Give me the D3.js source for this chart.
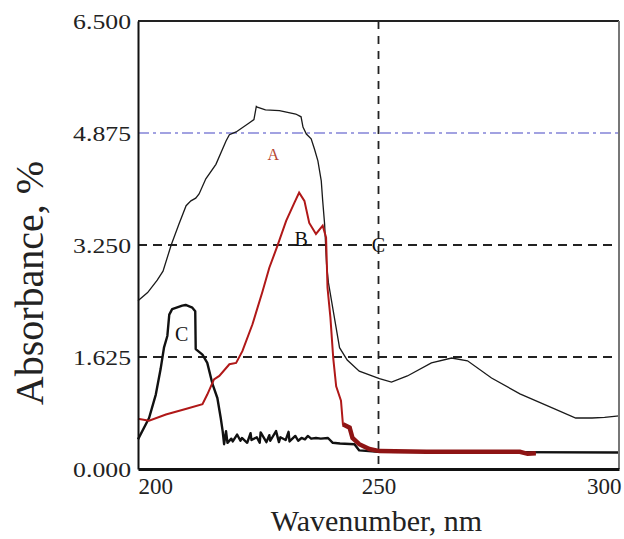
<!DOCTYPE html>
<html>
<head>
<meta charset="utf-8">
<script src="https://cdn.jsdelivr.net/npm/d3@7"></script>
<style>
  body { margin: 0; background: #fff; }
  svg text { font-family: "Liberation Serif", "Times New Roman", serif; }
</style>
</head>
<body>
<div id="maViz"></div>
<script>
// donnees (nm , absorbance)
const waveA = [200, 202, 204, 205.2, 206.9, 208.5, 210, 211, 212, 212.7, 214.1, 216.2, 218.3, 219, 220.4, 223.1, 224.1, 224.6, 224.8, 226.5, 229.4, 232.8, 233.9, 234.3, 235, 236, 236.7, 237.4, 238.1, 238.4, 238.8, 239.2, 239.6, 240.6, 241.9, 243.5, 246, 250.2, 252.7, 256, 261, 265.2, 268.5, 273.5, 279.4, 286, 291, 294.4, 297, 300];
const absA  = [2.44, 2.56, 2.74, 2.87, 3.25, 3.55, 3.82, 3.89, 3.93, 3.99, 4.21, 4.42, 4.76, 4.85, 4.89, 5.02, 5.07, 5.26, 5.25, 5.21, 5.20, 5.15, 5.11, 4.96, 4.86, 4.79, 4.64, 4.47, 4.18, 3.89, 3.55, 2.97, 2.70, 2.29, 1.76, 1.58, 1.42, 1.31, 1.26, 1.35, 1.54, 1.61, 1.57, 1.32, 1.09, 0.89, 0.74, 0.74, 0.75, 0.77];

const waveB = [200, 202.3, 205.8, 209.9, 213.4, 214.4, 215.8, 216.9, 219, 220.4, 221.7, 223.8, 225.9, 227.3, 229, 230.8, 232.5, 233.5, 234.6, 235.6, 237, 238.4, 239.1, 239.4, 240, 240.6, 241.2, 242.2, 242.6, 244, 244.6, 246, 248.1, 250.2, 260, 270, 279.4, 281, 282.7];
const absB  = [0.73, 0.70, 0.79, 0.87, 0.94, 1.08, 1.30, 1.35, 1.52, 1.54, 1.71, 2.10, 2.58, 2.92, 3.24, 3.60, 3.86, 4.01, 3.89, 3.57, 3.41, 3.53, 3.36, 2.63, 2.20, 1.60, 1.20, 0.99, 0.65, 0.60, 0.45, 0.36, 0.29, 0.26, 0.25, 0.25, 0.25, 0.22, 0.23];

const waveC = [200, 202.3, 203.7, 204.7, 205.4, 206.1, 206.5, 207.1, 209.2, 209.9, 211.3, 211.9, 212, 213.4, 214.4, 215.5, 216.5, 217.2, 217.6, 217.9, 218.3, 218.6, 219.4, 219.7, 220.6, 221.3, 221.6, 222.7, 223.4, 223.6, 224.7, 225.3, 225.5, 226.7, 227.3, 227.5, 228.7, 229.3, 229.6, 230.7, 231.3, 231.5, 232.7, 233.3, 234, 234.7, 235.3, 236, 237, 238, 239.5, 240.5, 242, 245, 246, 250, 300];
const absC  = [0.43, 0.74, 1.08, 1.45, 1.76, 1.93, 2.24, 2.32, 2.37, 2.38, 2.34, 2.29, 1.74, 1.66, 1.54, 1.23, 1.03, 0.74, 0.55, 0.36, 0.55, 0.38, 0.44, 0.40, 0.50, 0.41, 0.45, 0.38, 0.52, 0.42, 0.46, 0.38, 0.53, 0.39, 0.49, 0.41, 0.55, 0.39, 0.46, 0.42, 0.54, 0.40, 0.48, 0.41, 0.45, 0.43, 0.48, 0.44, 0.45, 0.44, 0.45, 0.38, 0.37, 0.36, 0.27, 0.25, 0.24];

const xTicks = [200, 250, 300];
const yTicks = [0, 1.625, 3.25, 4.875, 6.5];
const gridY = [4.875, 3.25, 1.625];
const gridX = [250];

// lettres sur les courbes
const marks = ["A", "B", "C", "C"];
const markWave = [228.1, 233.9, 209.1, 250];
const markAbs = [4.57, 3.33, 1.96, 3.25];

// dimensions
const W = 624, H = 539;
const margin = {top: 21, right: 5, bottom: 70, left: 138};
const width = W - margin.left - margin.right;   // 481
const height = H - margin.top - margin.bottom;  // 448

const svg = d3.select("#maViz").append("svg")
  .attr("width", W).attr("height", H);

const g = svg.append("g")
  .attr("transform", `translate(${margin.left},${margin.top})`);

const x = d3.scaleLinear().domain([200, 300]).range([0, width]);
const y = d3.scaleLinear().domain([0, 6.5]).range([height, 0]);

// grille pointillee
g.selectAll(".gy").data(gridY).join("line")
  .attr("x1", 0).attr("x2", width)
  .attr("y1", d => y(d)).attr("y2", d => y(d))
  .attr("stroke", d => d === 4.875 ? "#8484d8" : "#222")
  .attr("stroke-width", d => d === 4.875 ? 1.4 : 1.8)
  .attr("stroke-dasharray", d => d === 4.875 ? "11,4,3,4" : "9,6");

g.selectAll(".gx").data(gridX).join("line")
  .attr("x1", d => x(d)).attr("x2", d => x(d))
  .attr("y1", 0).attr("y2", height)
  .attr("stroke", "#222").attr("stroke-width", 1.8)
  .attr("stroke-dasharray", "8,7");

// courbes
const line = d3.line().x(d => x(d[0])).y(d => y(d[1]));
const serie = (w, a) => w.map((v, i) => [v, a[i]]);

g.append("path").datum(serie(waveA, absA))
  .attr("fill", "none").attr("stroke", "#1a1a1a").attr("stroke-width", 1.3)
  .attr("d", line);

g.append("path").datum(serie(waveC, absC))
  .attr("fill", "none").attr("stroke", "#111").attr("stroke-width", 2.4)
  .attr("stroke-linejoin", "round")
  .attr("d", line);

g.append("path").datum(serie(waveB, absB))
  .attr("fill", "none").attr("stroke", "#b01818").attr("stroke-width", 2)
  .attr("d", line);

// partie basse de B plus epaisse
g.append("path").datum(serie(waveB, absB).filter(d => d[0] >= 242.6))
  .attr("fill", "none").attr("stroke", "#8e1414").attr("stroke-width", 4.5)
  .attr("d", line);

// lettres
g.selectAll(".mk").data(marks).join("text")
  .attr("x", (d, i) => x(markWave[i]))
  .attr("y", (d, i) => y(markAbs[i]))
  .attr("dy", "0.35em")
  .attr("text-anchor", "middle")
  .attr("font-size", (d, i) => i === 0 ? 16 : 20)
  .attr("fill", (d, i) => i === 0 ? "#b5452f" : "#111")
  .text(d => d);

// cadre
g.append("line").attr("x1", 0).attr("x2", width).attr("y1", 0).attr("y2", 0)
  .attr("stroke", "#222").attr("stroke-width", 2);
g.append("line").attr("x1", width).attr("x2", width).attr("y1", 0).attr("y2", height)
  .attr("stroke", "#777").attr("stroke-width", 2);

// axes
const axY = g.append("g").call(d3.axisLeft(y).tickValues(yTicks).tickSize(0).tickPadding(8).tickFormat(d3.format(".3f")));
axY.select(".domain").attr("stroke", "#111").attr("stroke-width", 2);
axY.selectAll("text").attr("font-size", 22).attr("fill", "#222")
  .attr("font-family", "Liberation Serif")
  .attr("transform", "scale(1.17,1)")
  .attr("x", -7 / 1.17);

const axX = g.append("g").attr("transform", `translate(0,${height})`)
  .call(d3.axisBottom(x).tickValues(xTicks).tickSize(0).tickPadding(9).tickFormat(d3.format("d")));
axX.select(".domain").attr("stroke", "#111").attr("stroke-width", 3);
axX.selectAll("text").attr("font-size", 23).attr("fill", "#222")
  .attr("font-family", "Liberation Serif")
  .attr("text-anchor", d => d === 200 ? "start" : d === 300 ? "end" : "middle")
  .attr("dx", d => d === 300 ? 2 : 0);

// titres
svg.append("text")
  .attr("x", margin.left + x(250) - 2).attr("y", 531)
  .attr("text-anchor", "middle").attr("font-size", 30).attr("fill", "#222")
  .text("Wavenumber, nm");

svg.append("text")
  .attr("transform", "translate(43,283) rotate(-90)")
  .attr("text-anchor", "middle").attr("font-size", 40).attr("fill", "#222")
  .text("Absorbance, %");
</script>
</body>
</html>
